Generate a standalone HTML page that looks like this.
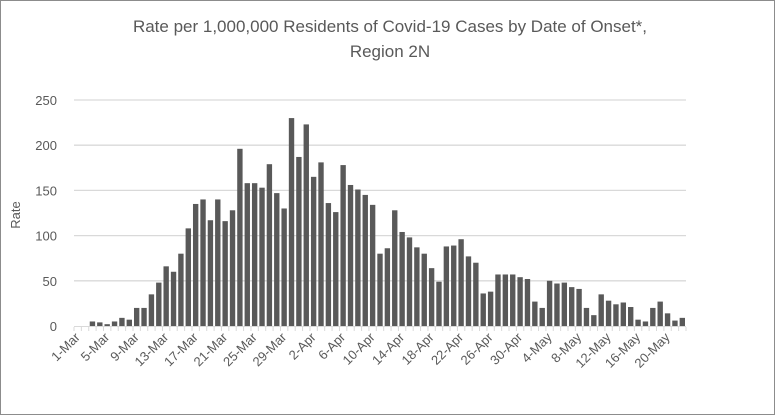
<!DOCTYPE html>
<html><head><style>body{margin:0;background:#fff}svg{display:block}</style></head>
<body>
<svg width="775" height="416" xmlns="http://www.w3.org/2000/svg" font-family="Liberation Sans, sans-serif">
<rect x="0.5" y="0.5" width="774" height="414" fill="#fff" stroke="#8c8c8c"/>
<text x="390" y="32" text-anchor="middle" font-size="17" fill="#595959">Rate per 1,000,000 Residents of Covid-19 Cases by Date of Onset*,</text>
<text x="390" y="57" text-anchor="middle" font-size="17" fill="#595959">Region 2N</text>
<g id="grid" stroke="#d9d9d9" stroke-width="1.3"></g>
<g id="bars" fill="#595959"></g>
<g id="ylab" font-size="13" fill="#595959" text-anchor="end"></g>
<g id="xlab" font-size="13" fill="#595959" text-anchor="end"></g>
<text transform="translate(20,215) rotate(-90)" text-anchor="middle" font-size="13" fill="#595959">Rate</text>
<line x1="74" y1="326.5" x2="686" y2="326.5" stroke="#d9d9d9" stroke-width="1"/>
<g id="ticks" stroke="#d9d9d9"></g>
</svg>
<script>
var v=[0,0,5,4,2,5,9,7,20,20,35,48,66,60,80,108,135,140,117,140,116,128,196,158,158,153,179,147,130,230,187,223,165,181,136,126,178,156,151,145,134,80,86,128,104,98,87,80,64,49,88,89,96,77,70,36,38,57,57,57,54,52,27,20,50,47,48,43,41,20,12,35,28,24,26,21,7,5,20,27,14,6,9];
var ns="http://www.w3.org/2000/svg",x0=74,x1=686,n=v.length,p=(x1-x0)/n,y0=326,k=226/250;
function el(t,a,par,txt){var e=document.createElementNS(ns,t);for(var i in a)e.setAttribute(i,a[i]);if(txt)e.textContent=txt;document.getElementById(par).appendChild(e);}
for(var g=50;g<=250;g+=50){var y=y0-g*k;el('line',{x1:x0,x2:x1,y1:y,y2:y},'grid');}
for(var g=0;g<=250;g+=50){el('text',{x:57,y:y0-g*k+5},'ylab',''+g);}
for(var i=0;i<n;i++){var h=v[i]*k;if(h>0)el('rect',{x:x0+i*p+1,y:y0-h,width:p-2,height:h},'bars');}
for(var i=0;i<=n;i++){el('line',{x1:x0+i*p,x2:x0+i*p,y1:327,y2:331},'ticks');}
var m=['Jan','Feb','Mar','Apr','May'];
for(var i=0;i<n;i+=4){var dd=new Date(2020,2,1+i);var x=x0+i*p+p/2+3,y=338;el('text',{x:x,y:y,transform:'rotate(-45 '+x+' '+y+')'},'xlab',dd.getDate()+'-'+m[dd.getMonth()]);}
</script>
</body></html>
